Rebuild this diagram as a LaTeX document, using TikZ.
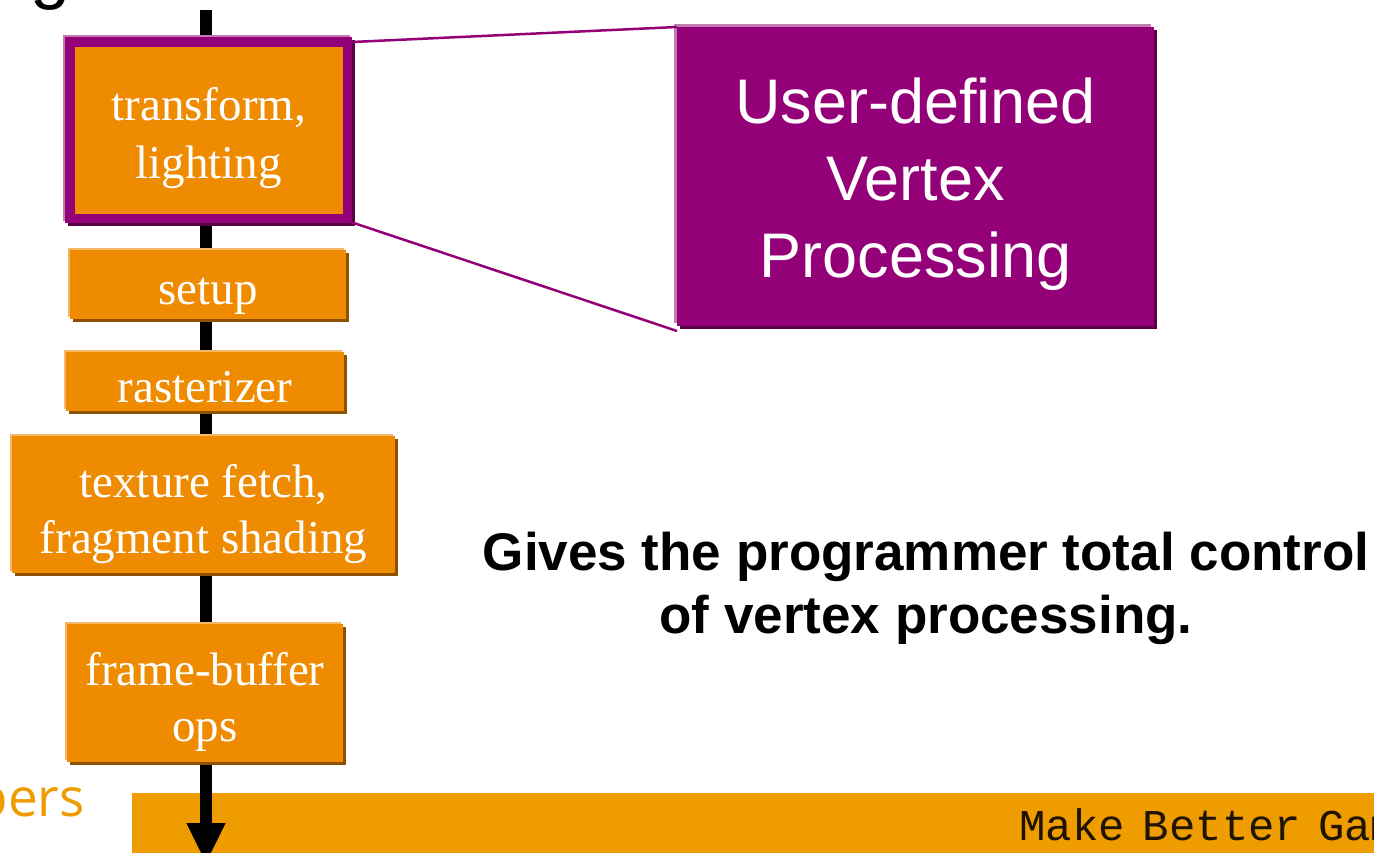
\documentclass[tikz,border=0pt]{standalone}
\usepackage{fontspec}
\setmainfont{Liberation Serif}
\newfontfamily\arialfont{Liberation Sans}
\newfontfamily\dotfont{Liberation Mono}
\newfontfamily\logofont{Open Sans}
\usetikzlibrary{arrows.meta}

\definecolor{boxorange}{HTML}{EF8B00}
\definecolor{boxshadow}{HTML}{8E5200}
\definecolor{boxlight}{HTML}{F6B868}
\definecolor{vpurple}{HTML}{940077}
\definecolor{vpurpleshadow}{HTML}{5A0046}
\definecolor{vpurplelight}{HTML}{C27AB2}
\definecolor{barorange}{HTML}{EF9C00}
\definecolor{dotink}{HTML}{1E1400}

\tikzset{
  stagebox/.style={
    fill=boxorange, inner sep=0pt, outer sep=0pt,
    preaction={fill=boxlight, transform canvas={shift={(-2pt,2pt)}}},
    preaction={fill=boxshadow, transform canvas={shift={(3pt,-3pt)}}}
  },
  vertexstage/.style={
    fill=boxorange, draw=vpurple, line width=9.5pt, inner sep=0pt, outer sep=0pt,
    preaction={fill=vpurplelight, draw=vpurplelight, transform canvas={shift={(-2pt,2pt)}}},
    preaction={fill=vpurpleshadow, draw=vpurpleshadow, transform canvas={shift={(3pt,-3pt)}}}
  },
  stagetext/.style={
    text=white, align=center, inner sep=0pt,
    font=\fontsize{47pt}{57pt}\selectfont
  },
  calloutbox/.style={
    fill=vpurple, inner sep=0pt, outer sep=0pt,
    preaction={fill=vpurplelight, transform canvas={shift={(-3pt,3pt)}}},
    preaction={fill=vpurpleshadow, transform canvas={shift={(3pt,-3pt)}}}
  },
  callouttext/.style={
    text=white, align=center, inner sep=0pt,
    font=\arialfont\fontsize{63pt}{77pt}\selectfont
  },
  zoomline/.style={draw=vpurple, line width=2.5pt},
  spine/.style={line width=12pt, black, -{Triangle[width=36pt,length=41pt]}}
}

\begin{document}
\begin{tikzpicture}[x=1pt,y=-1pt]
  \clip (0,0) rectangle (1374,853);
  \fill[white] (0,0) rectangle (1374,853);

  % cut-off heading letter and logo text
  \node[font=\arialfont\fontsize{72pt}{80pt}\selectfont, text=black, anchor=base, inner sep=0pt] (heading) at (51,-4) {g};
  \node[font=\logofont\fontsize{53pt}{60pt}\selectfont, text=barorange, anchor=base east, inner sep=0pt] (logo) at (85,816) {pers};

  % footer bar
  \node[fill=barorange, inner sep=0pt, outer sep=0pt, minimum width=1242pt, minimum height=60pt] (bar) at (753,823) {};
  \node[font=\dotfont\fontsize{44pt}{50pt}\selectfont, text=dotink, anchor=base west, inner sep=0pt] (slogan) at (1019,840) {Make\hspace{18pt}Better\hspace{17pt}Games};

  % pipeline spine
  \coordinate (spinetop) at (206,10);
  \coordinate (spinetip) at (206,864);
  \draw[spine] (spinetop) -- (spinetip);

  % pipeline stages
  \node[vertexstage, minimum width=277.5pt, minimum height=176.5pt] (tl) at (208.75,130.25) {};
  \node[stagebox, minimum width=276pt, minimum height=69pt] (setup) at (208,284.5) {};
  \node[stagebox, minimum width=278pt, minimum height=59pt] (raster) at (205,381.5) {};
  \node[stagebox, minimum width=383pt, minimum height=137pt] (frag) at (203.5,504.5) {};
  \node[stagebox, minimum width=276pt, minimum height=138pt] (fb) at (205,693) {};

  \node[stagetext, font=\fontsize{47pt}{58pt}\selectfont] (tl-text) at ([yshift=-8pt]tl.center) {transform,\\lighting};
  \node[stagetext] (setup-text) at ([yshift=-12pt]setup.center) {setup};
  \node[stagetext] (raster-text) at ([yshift=-6pt]raster.center) {rasterizer};
  \node[stagetext, font=\fontsize{47pt}{56pt}\selectfont] (frag-text) at ([yshift=-10pt]frag.center) {texture fetch,\\fragment shading};
  \node[stagetext, font=\fontsize{47pt}{56pt}\selectfont] (fb-text) at ([yshift=-9pt]fb.center) {frame-buffer\\ops};

  % callout
  \node[calloutbox, minimum width=477pt, minimum height=299pt] (udv) at (915.5,176.5) {};
  \node[callouttext] (udv-text) at ([yshift=-8pt]udv.center) {User-defined\\Vertex\\Processing};
  \draw[zoomline] ([xshift=4.75pt]tl.north east) -- (udv.north west);
  \draw[zoomline] ([xshift=4.75pt,yshift=-4pt]tl.south east) -- ([yshift=-5pt]udv.south west);

  % caption
  \node[font=\arialfont\bfseries\fontsize{53pt}{63pt}\selectfont, align=center, text=black] (note) at (926,588) {Gives the programmer total control\\of vertex processing.};
\end{tikzpicture}
\end{document}
